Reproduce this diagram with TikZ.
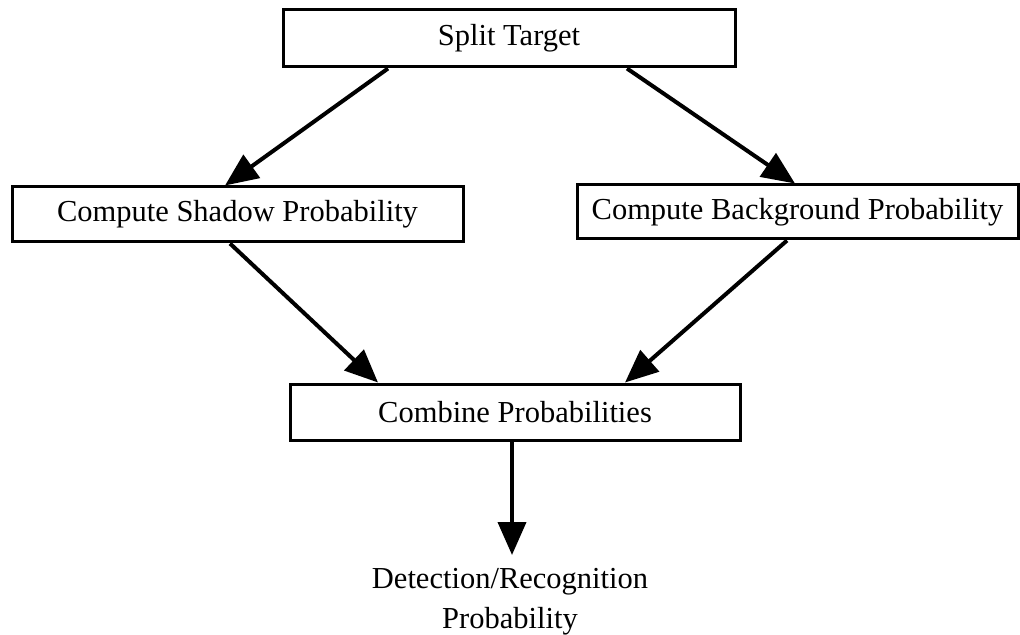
\documentclass[tikz,border=0pt]{standalone}
\usepackage{fontspec}
\setmainfont{Liberation Serif}
\usetikzlibrary{arrows.meta}
\begin{document}
\begin{tikzpicture}[x=0.5pt,y=-0.5pt,
  every node/.style={font=\fontsize{15.25}{20}\selectfont},
  box/.style={draw,line width=1.5pt,inner sep=0pt,fill=white},
  flow/.style={line width=2pt,-{Triangle[width=14pt,length=16.5pt]}}]
  \useasboundingbox (0,0) rectangle (1020,635);

  % process boxes
  \node[box,minimum width=226pt,minimum height=28.5pt] (split) at (509,38.5) {Split Target};
  \node[box,minimum width=225.5pt,minimum height=27.5pt] (shadow) at (237.5,214.5) {Compute Shadow Probability};
  \node[box,minimum width=220.5pt,minimum height=27pt] (backg) at (797.5,212) {Compute Background Probability};
  \node[box,minimum width=225pt,minimum height=28pt] (combine) at (515,412) {Combine Probabilities};

  % final output label
  \node[anchor=north,align=center,inner sep=0pt] (result) at (510,568) {Detection/Recognition\\Probability};
  \coordinate (tip) at (512,555);

  % connectors
  \draw[flow] ([xshift=-60.5pt]split.south) -- ([xshift=-6.25pt]shadow.north);
  \draw[flow] ([xshift=59pt]split.south) -- ([xshift=-1.25pt]backg.north);
  \draw[flow] ([xshift=-3.75pt]shadow.south) -- ([xshift=-68.5pt]combine.north);
  \draw[flow] ([xshift=-5.25pt]backg.south) -- ([xshift=55pt]combine.north);
  \draw[flow] ([xshift=-1.5pt]combine.south) -- (tip);
\end{tikzpicture}
\end{document}
